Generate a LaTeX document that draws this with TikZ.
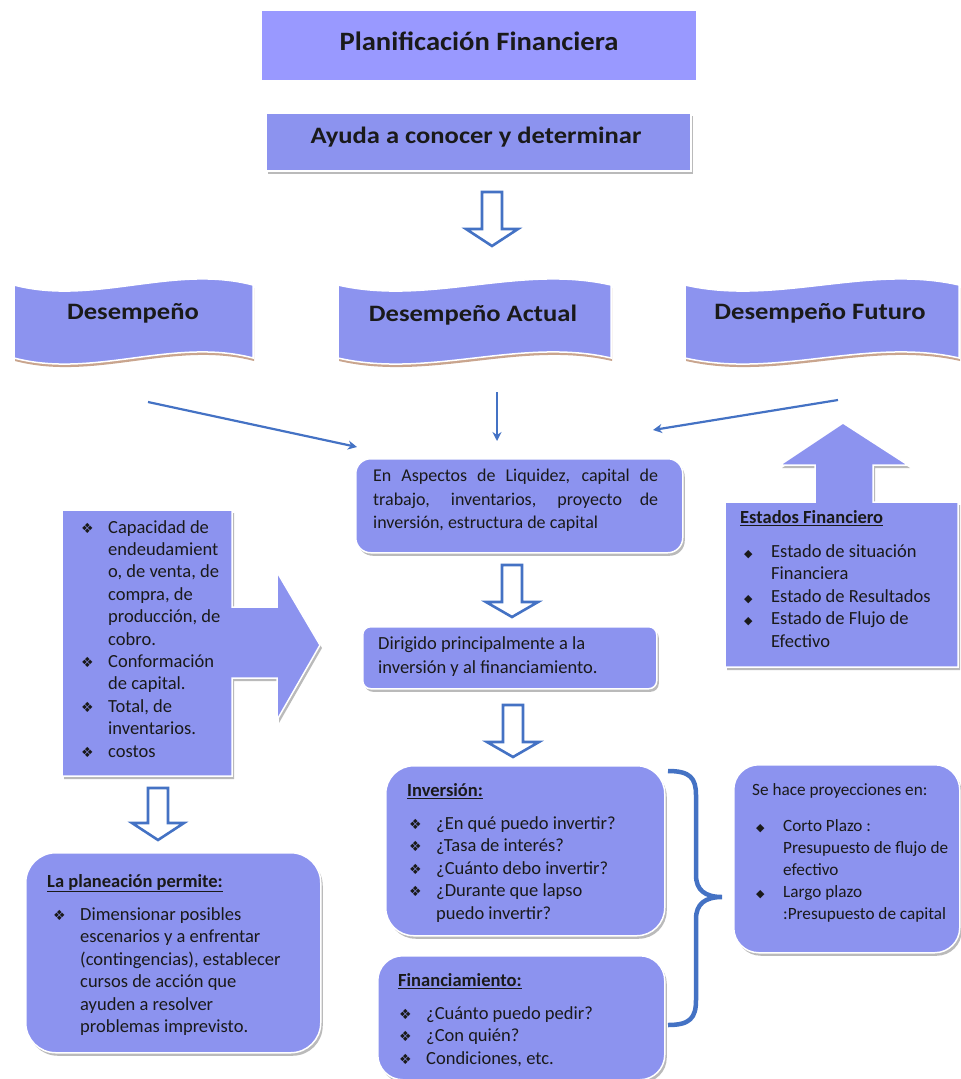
\documentclass[tikz,border=0pt]{standalone}
\usepackage{fontspec}
\setmainfont{Carlito}
\newfontfamily\djv{DejaVu Sans}
\usetikzlibrary{arrows.meta,shadows}
\definecolor{boxc}{HTML}{8C93EF}
\definecolor{titc}{HTML}{9999FF}
\definecolor{arrc}{HTML}{4472C4}
\definecolor{tanc}{HTML}{C9A58E}
\definecolor{txtc}{HTML}{1A1A1A}
\newcommand{\bulX}{\makebox[27pt][l]{\djv\fontsize{14}{14}\selectfont ❖}}
\newcommand{\bulD}{\makebox[27pt][l]{\djv\fontsize{11}{11}\selectfont ◆}}
\newcommand{\bulN}{\makebox[27pt]{}}
\newcommand{\wide}[1]{\scalebox{1.13}[1]{#1}}
\newcommand{\hollowdown}[4]{%
  \draw[hollow] ({#1-10},#2) -- ({#1+10},#2) -- ({#1+10},#3) -- ({#1+26},#3) -- (#1,#4) -- ({#1-26},#3) -- ({#1-10},#3) -- cycle;}
\newcommand{\wavepath}[4]{%
  (#1,#2) .. controls ({#1+(#3-#1)/3},{#2+21}) and ({#1+2*(#3-#1)/3},{#2-21}) .. (#3,#2)
  -- (#3,#4) .. controls ({#3-(#3-#1)/3},{#4-21}) and ({#3-2*(#3-#1)/3},{#4+21}) .. (#1,#4) -- cycle}
\begin{document}
\begin{tikzpicture}[x=1pt,y=-1pt,
  box/.style={fill=boxc, draw=white, line width=1.5pt,
    drop shadow={shadow xshift=2pt,shadow yshift=-3pt,fill=black!45,opacity=0.6}},
  body/.style={inner sep=0pt, anchor=north west, text=txtc, align=left,
    font=\fontsize{18.5}{22.4}\selectfont},
  head/.style={inner sep=0pt, text=txtc, font=\bfseries\fontsize{23.5}{24}\selectfont},
  thinarrow/.style={draw=arrc, line width=2.2pt, -{Stealth[length=9pt,width=9pt]}},
  hollow/.style={draw=arrc, line width=2.6pt, fill=white, line join=miter},
  banner/.style={fill=boxc, draw=white, line width=1.5pt},
  bannershadow/.style={fill=tanc}]
\useasboundingbox (0,0) rectangle (961,1079);

% Title
\node[fill=titc, minimum width=434pt, minimum height=69pt, anchor=north west, inner sep=0pt] (title) at (262,11) {};
\node[head, font=\bfseries\fontsize{26.5}{27}\selectfont] (titlet) at (479,41) {\scalebox{1.08}[1]{Planificación Financiera}};

% Ayuda
\node[box, minimum width=425pt, minimum height=58pt, anchor=north west, inner sep=0pt] (ayuda) at (265,112) {};
\node[head] (ayudat) at (476,137) {\wide{Ayuda a conocer y determinar}};

\hollowdown{492}{192}{229}{246}

% Banners
\fill[bannershadow] [shift={(1,3)}] \wavepath{14}{285}{253}{358};
\path[banner] \wavepath{14}{285}{253}{358};
\node[head] (b1) at (133,313) {\wide{Desempeño}};

\fill[bannershadow] [shift={(1,3)}] \wavepath{338}{285}{611}{358};
\path[banner] \wavepath{338}{285}{611}{358};
\node[head] (b2) at (473,315) {\wide{Desempeño Actual}};

\fill[bannershadow] [shift={(1,3)}] \wavepath{685}{285}{959}{358};
\path[banner] \wavepath{685}{285}{959}{358};
\node[head] (b3) at (820,313) {\wide{Desempeño Futuro}};

% thin arrows
\coordinate (a1s) at (148,402); \coordinate (a1e) at (357,447);
\coordinate (a2s) at (497,392); \coordinate (a2e) at (497,441);
\coordinate (a3s) at (838,400); \coordinate (a3e) at (653,430);
\draw[thinarrow] (a1s) -- (a1e);
\draw[thinarrow] (a2s) -- (a2e);
\draw[thinarrow] (a3s) -- (a3e);

% Aspectos
\node[box, rounded corners=15pt, minimum width=327pt, minimum height=94pt, anchor=north west, inner sep=0pt] (asp) at (355,458) {};
\node[body, font=\fontsize{18}{23.5}\selectfont] (aspt) at (373,469) {\hbox to 285pt{En Aspectos de Liquidez, capital de}\\\hbox to 285pt{trabajo, inventarios, proyecto de}\\inversión, estructura de capital};

\hollowdown{512}{565}{602}{617}

% Dirigido
\node[box, rounded corners=8pt, minimum width=294pt, minimum height=62pt, anchor=north west, inner sep=0pt] (dir) at (362,626) {};
\node[body, font=\fontsize{18.5}{24}\selectfont] (dirt) at (378,636) {Dirigido principalmente a la\\inversión y al financiamiento.};

\hollowdown{513}{705}{742}{757}

% Left callout
\path[box] (62,510) -- (232,510) -- (232,607) -- (277,607) -- (277,572) -- (320,645) -- (277,720) -- (277,678) -- (232,678) -- (232,776) -- (62,776) -- cycle;
\node[body] (leftt) at (81,520) {\bulX Capacidad de\\ \bulN endeudamient\\ \bulN o, de venta, de\\ \bulN compra, de\\ \bulN producción, de\\ \bulN cobro.\\ \bulX Conformación\\ \bulN de capital.\\ \bulX Total, de\\ \bulN inventarios.\\ \bulX costos};

\hollowdown{158}{788}{823}{840}

% Planeacion
\node[box, rounded corners=30pt, minimum width=295pt, minimum height=200pt, anchor=north west, inner sep=0pt] (plan) at (25,852) {};
\node[body] (plant) at (47,874) {\underline{\textbf{La planeación permite:}}\\[11pt]
\hspace*{6pt}\bulX Dimensionar posibles\\ \hspace*{6pt}\bulN escenarios y a enfrentar\\ \hspace*{6pt}\bulN (contingencias), establecer\\ \hspace*{6pt}\bulN cursos de acción que\\ \hspace*{6pt}\bulN ayuden a resolver\\ \hspace*{6pt}\bulN problemas imprevisto.};

% Estados callout
\path[box] (725,502) -- (815,502) -- (815,465) -- (780,465) -- (843,423) -- (908,465) -- (873,465) -- (873,502) -- (958,502) -- (958,667) -- (725,667) -- cycle;
\node[body] (estt) at (740,510) {\underline{\textbf{Estados Financiero}}\\[12pt]
\hspace*{4pt}\bulD Estado de situación\\ \hspace*{4pt}\bulN Financiera\\ \hspace*{4pt}\bulD Estado de Resultados\\ \hspace*{4pt}\bulD Estado de Flujo de\\ \hspace*{4pt}\bulN Efectivo};

% Inversion
\node[box, rounded corners=28pt, minimum width=279pt, minimum height=170pt, anchor=north west, inner sep=0pt] (inv) at (385,765) {};
\node[body] (invt) at (407,783) {\underline{\textbf{Inversión:}}\\[11pt]
\hspace*{2pt}\bulX ¿En qué puedo invertir?\\ \hspace*{2pt}\bulX ¿Tasa de interés?\\ \hspace*{2pt}\bulX ¿Cuánto debo invertir?\\ \hspace*{2pt}\bulX ¿Durante que lapso\\ \hspace*{2pt}\bulN puedo invertir?};

% Financiamiento
\node[box, rounded corners=25pt, minimum width=287pt, minimum height=124pt, anchor=north west, inner sep=0pt] (fin) at (377,955) {};
\node[body] (fint) at (398,973) {\underline{\textbf{Financiamiento:}}\\[11pt]
\hspace*{1pt}\bulX ¿Cuánto puedo pedir?\\ \hspace*{1pt}\bulX ¿Con quién?\\ \hspace*{1pt}\bulX Condiciones, etc.};

% Brace
\draw[arrc, line width=4.5pt] (668,771) .. controls (690,771) and (696,778) .. (696,795) -- (696,875) .. controls (696,890) and (705,897) .. (722,897) .. controls (705,897) and (696,904) .. (696,919) -- (696,1000) .. controls (696,1018) and (690,1025) .. (668,1025);

% Proyecciones
\node[box, rounded corners=25pt, minimum width=226pt, minimum height=188pt, anchor=north west, inner sep=0pt] (proy) at (733,764) {};
\node[body, font=\fontsize{17.2}{22}\selectfont] (proyt) at (752,783) {Se hace proyecciones en:\\[14pt]
\hspace*{4pt}\bulD Corto Plazo :\\ \hspace*{4pt}\bulN Presupuesto de flujo de\\ \hspace*{4pt}\bulN efectivo\\ \hspace*{4pt}\bulD Largo plazo\\ \hspace*{4pt}\bulN :Presupuesto de capital};
\end{tikzpicture}
\end{document}
